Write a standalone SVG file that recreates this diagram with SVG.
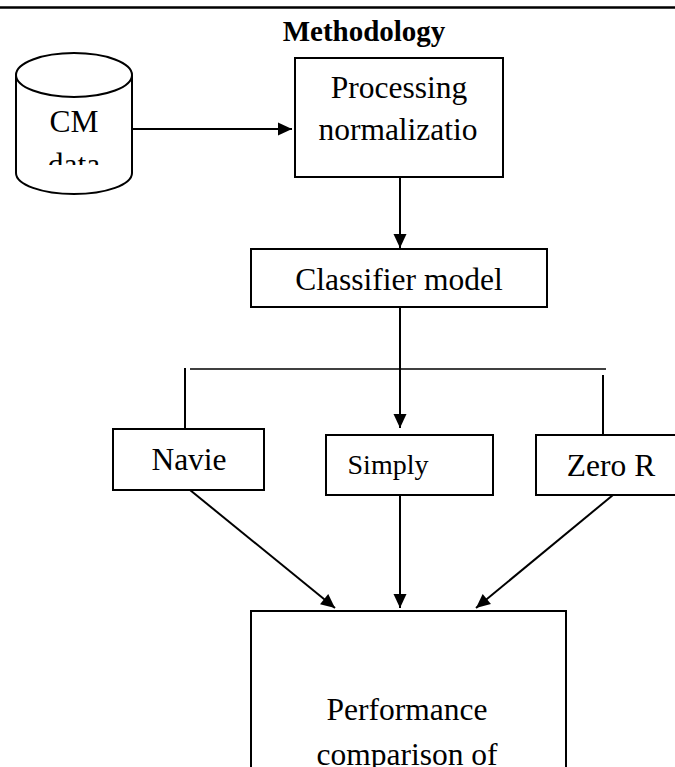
<svg xmlns="http://www.w3.org/2000/svg" width="675" height="767" viewBox="0 0 675 767">
<style>
text{font-family:"Liberation Serif","Times New Roman",serif;fill:#000}
.lbl{font-size:31.5px;text-anchor:middle}
.box{fill:#fff;stroke:#000;stroke-width:2}
.con{stroke:#000;stroke-width:2;fill:none}
.thin{stroke:#000;stroke-width:1.6;fill:none}
</style>
<defs>
<marker id="ah" markerUnits="userSpaceOnUse" markerWidth="16" markerHeight="16" viewBox="0 0 16 16" refX="15" refY="8" orient="auto">
<path d="M1,1.5 L15,8 L1,14.5 Z" fill="#000"/>
</marker>
<clipPath id="cylclip"><rect x="0" y="0" width="200" height="165"/></clipPath>
</defs>
<rect width="675" height="767" fill="#fff"/>
<line x1="0" y1="7.5" x2="675" y2="7.5" stroke="#000" stroke-width="2.5"/>
<text x="364" y="41" font-size="29" font-weight="bold" text-anchor="middle">Methodology</text>

<g id="cm-data">
<path class="box" d="M16,75 L16,173 A58,21 0 0 0 132,173 L132,75"/>
<ellipse class="box" cx="74" cy="75" rx="58" ry="22"/>
<text class="lbl" x="74" y="132">CM</text>
<text class="lbl" x="74" y="175" clip-path="url(#cylclip)">data</text>
</g>

<g id="processing">
<rect class="box" x="295" y="58" width="208" height="119"/>
<text class="lbl" x="399" y="98">Processing</text>
<text class="lbl" x="398" y="140">normalizatio</text>
</g>

<g id="classifier">
<rect class="box" x="251" y="249" width="296" height="58"/>
<text class="lbl" x="399" y="290">Classifier model</text>
</g>

<g id="navie">
<rect class="box" x="113" y="429" width="151" height="61"/>
<text class="lbl" x="189" y="470">Navie</text>
</g>

<g id="simply">
<rect class="box" x="326" y="435" width="167" height="60"/>
<text x="388" y="474" font-size="28" text-anchor="middle">Simply</text>
</g>

<g id="zeror">
<rect class="box" x="536" y="435" width="145" height="60"/>
<text class="lbl" x="611" y="476">Zero R</text>
</g>

<g id="performance">
<rect class="box" x="251" y="611" width="315" height="170"/>
<text class="lbl" x="407" y="720">Performance</text>
<text class="lbl" x="407" y="765">comparison of</text>
</g>

<g id="connectors">
<line class="con" x1="133" y1="129" x2="292" y2="129" marker-end="url(#ah)"/>
<line class="con" x1="400" y1="178" x2="400" y2="248" marker-end="url(#ah)"/>
<line class="con" x1="400" y1="308" x2="400" y2="428" marker-end="url(#ah)"/>
<line class="thin" x1="190" y1="369" x2="606" y2="369"/>
<line class="con" x1="185" y1="368" x2="185" y2="429"/>
<line class="con" x1="603" y1="375" x2="603" y2="435"/>
<line class="con" x1="190" y1="490" x2="335" y2="608" marker-end="url(#ah)"/>
<line class="con" x1="400" y1="495" x2="400" y2="608" marker-end="url(#ah)"/>
<line class="con" x1="613" y1="495" x2="476" y2="608" marker-end="url(#ah)"/>
</g>
</svg>
